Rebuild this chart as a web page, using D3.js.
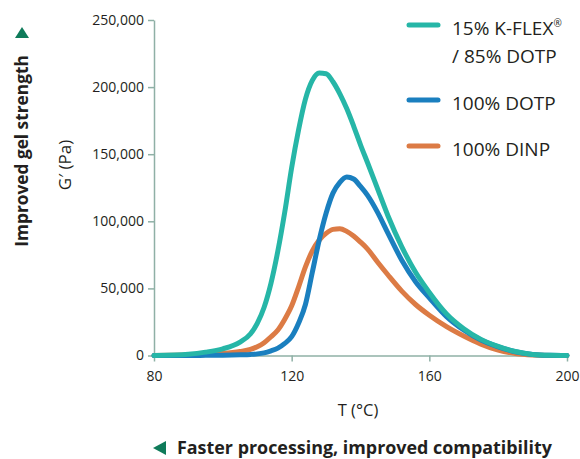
<!DOCTYPE html>
<html>
<head>
<meta charset="utf-8">
<script src="https://cdn.jsdelivr.net/npm/d3@7"></script>
<style>
  body { margin: 0; background: #fff; }
  text { font-family: "Open Sans", sans-serif; fill: #231f20; }
</style>
</head>
<body>
<svg id="chart"></svg>
<script>
const svg = d3.select("#chart")
  .attr("width", 580)
  .attr("height", 459);

// temperatures (°C) shared by all three curves
const temps = [80, 90, 95, 100, 105, 108, 110, 112, 114, 116, 118, 120, 122, 124, 126, 128,
  130, 132, 134, 136, 138, 140, 142, 145, 148, 152, 156, 160, 165, 170, 175, 180, 185, 190, 195, 200];

// G' (Pa)
const kflex = [0, 1000, 2500, 5000, 10000, 16000, 24000, 36000, 54000, 78000, 107000, 140000, 168000, 191000, 205000, 210500,
  210000, 204000, 195000, 184000, 171000, 157000, 144000, 124000, 104000, 81000, 62000, 47000, 31000, 20000, 12000, 6800, 3000, 800, 150, 0];
const dotp = [0, 0, 100, 200, 500, 800, 1200, 2000, 3500, 5500, 9000, 14000, 24000, 38000, 62000, 86000,
  106000, 121000, 129000, 133000, 131500, 126000, 119500, 106500, 91000, 71000, 55000, 43000, 29000, 19000, 11500, 6500, 2800, 800, 150, 0];
const dinp = [0, 300, 700, 1500, 3000, 4500, 6500, 9500, 14000, 19000, 27000, 37000, 51000, 66000, 78000, 86000,
  91000, 94000, 94500, 92500, 89000, 84500, 79500, 69500, 60000, 48000, 38000, 30000, 21500, 14500, 8500, 4000, 1500, 400, 50, 0];

const seriesLines = [["15% K-FLEX", "/ 85% DOTP"], ["100% DOTP"], ["100% DINP"]];
const seriesValues = [kflex, dotp, dinp];
const colors = ["#26b6a7", "#1a7fbf", "#dc7b45"];

const xTicks = [80, 120, 160, 200];
const yTicks = [0, 50000, 100000, 150000, 200000, 250000];

const x = d3.scaleLinear().domain([80, 200]).range([154, 567]);
const y = d3.scaleLinear().domain([0, 250000]).range([355.5, 20]);

const axisColor = "#8fb0a6";

/* ---------- axes ---------- */

const gx = svg.append("g")
  .attr("transform", `translate(0,${y(0)})`)
  .call(d3.axisBottom(x).tickValues(xTicks).tickSize(6).tickPadding(10).tickSizeOuter(0));

const gy = svg.append("g")
  .attr("transform", `translate(${x(80)},0)`)
  .call(d3.axisLeft(y).tickValues(yTicks).tickSize(6).tickPadding(4).tickSizeOuter(0)
    .tickFormat(d3.format(",")));

[gx, gy].forEach(g => {
  g.select(".domain").attr("stroke", axisColor).attr("stroke-width", 1.5);
  g.selectAll(".tick line").attr("stroke", axisColor).attr("stroke-width", 1.5);
  g.selectAll(".tick text").attr("font-size", 14).attr("fill", "#231f20")
    .attr("font-family", "'Open Sans', sans-serif");
});

/* ---------- curves ---------- */

const line = d3.line()
  .x((d, i) => x(temps[i]))
  .y(d => y(d))
  .curve(d3.curveMonotoneX);

// draw DINP first, then DOTP, then K-FLEX on top
[2, 1, 0].forEach(k => {
  svg.append("path")
    .datum(seriesValues[k])
    .attr("d", line)
    .attr("fill", "none")
    .attr("stroke", colors[k])
    .attr("stroke-width", 5)
    .attr("stroke-linejoin", "round")
    .attr("stroke-linecap", "round");
});

/* ---------- legend ---------- */

const legendY = [25, 100, 146];
seriesLines.forEach((lines, k) => {
  svg.append("line")
    .attr("x1", 409).attr("x2", 438)
    .attr("y1", legendY[k]).attr("y2", legendY[k])
    .attr("stroke", colors[k])
    .attr("stroke-width", 5)
    .attr("stroke-linecap", "round");
  lines.forEach((part, j) => {
    const t = svg.append("text")
      .attr("x", 452)
      .attr("y", legendY[k] + 10 + j * 28)
      .attr("font-size", 19)
      .text(part);
    if (k === 0 && j === 0) {
      t.append("tspan").attr("font-size", 10).attr("dy", -8).text("®");
    }
  });
});

/* ---------- axis titles ---------- */

svg.append("text")
  .attr("transform", `translate(71,165) rotate(-90)`)
  .attr("text-anchor", "middle")
  .attr("font-size", 17)
  .text("G′ (Pa)");

svg.append("text")
  .attr("x", 358)
  .attr("y", 416)
  .attr("text-anchor", "middle")
  .attr("font-size", 16.5)
  .text("T (°C)");

const green = "#0f7b5a";

svg.append("text")
  .attr("transform", `translate(28,151) rotate(-90)`)
  .attr("text-anchor", "middle")
  .attr("font-size", 17.3)
  .attr("font-weight", "bold")
  .text("Improved gel strength");

svg.append("path")
  .attr("d", "M22,27 L29,38 L15,38 Z")
  .attr("fill", green);

svg.append("path")
  .attr("d", "M153,448 L166,441 L166,455 Z")
  .attr("fill", green);

svg.append("text")
  .attr("x", 177)
  .attr("y", 454)
  .attr("font-size", 17.9)
  .attr("font-weight", "bold")
  .text("Faster processing, improved compatibility");
</script>
</body>
</html>
